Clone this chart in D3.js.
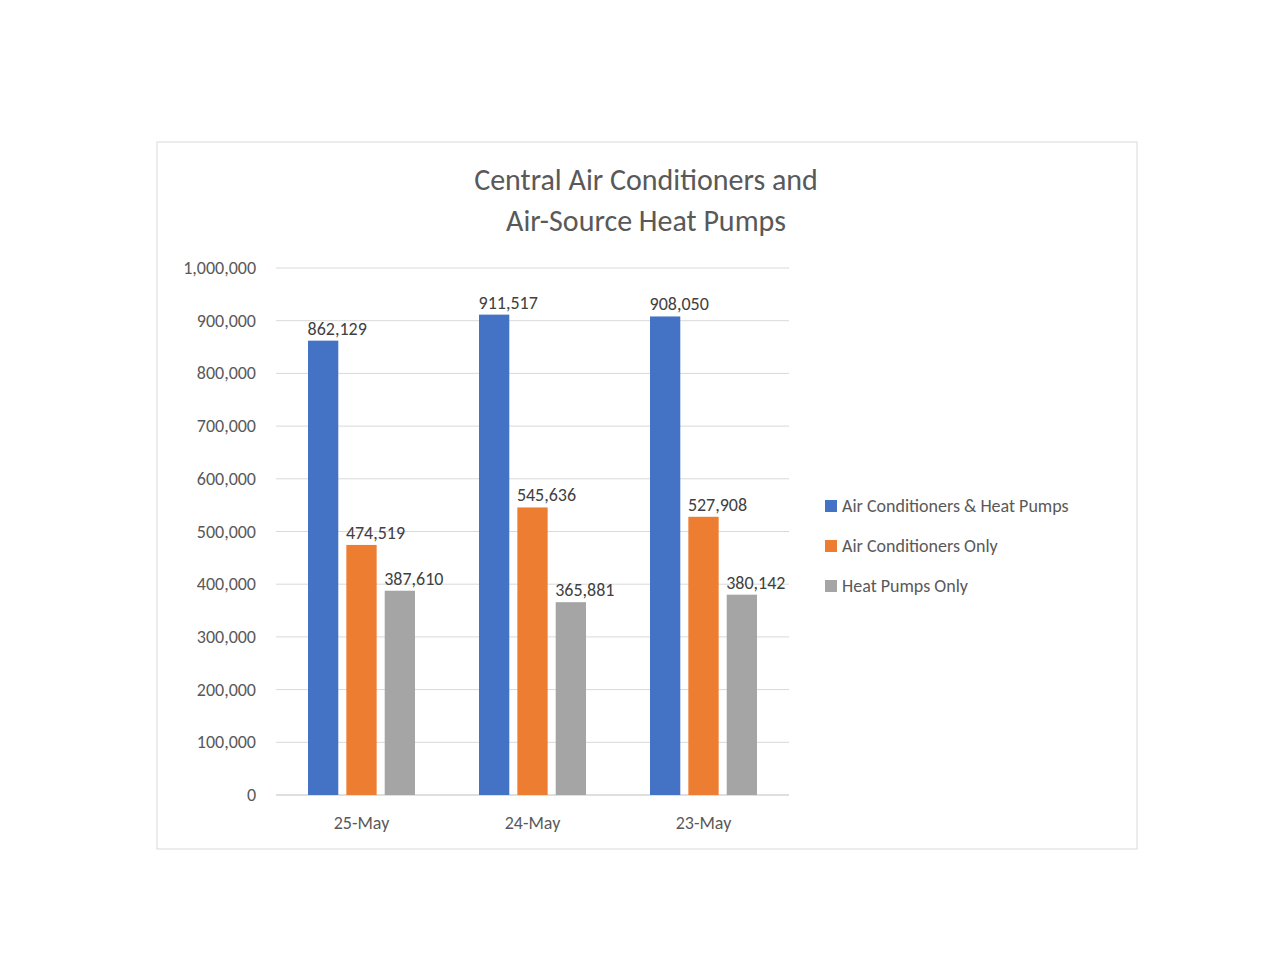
<!DOCTYPE html>
<html><head><meta charset="utf-8">
<script src="https://cdn.jsdelivr.net/npm/d3@7"></script>
<style>body{margin:0;background:#fff;font-family:Carlito,Lato,"Open Sans",sans-serif;}</style>
</head><body><div id="chart"></div>
<script>
const categories = ["25-May", "24-May", "23-May"];
const seriesNames = ["Air Conditioners & Heat Pumps", "Air Conditioners Only", "Heat Pumps Only"];
const bothValues = [862129, 911517, 908050];
const acValues = [474519, 545636, 527908];
const hpValues = [387610, 365881, 380142];
const colors = ["#4472c4", "#ed7d31", "#a5a5a5"];
const ticks = d3.range(0, 1000001, 100000);

const svg = d3.select("#chart").append("svg").attr("width", 1280).attr("height", 960);
svg.append("rect").attr("x", 157).attr("y", 142).attr("width", 980).attr("height", 707)
  .attr("fill", "#fff").attr("stroke", "#d9d9d9");

svg.append("text").attr("x", 646).attr("y", 190).attr("text-anchor", "middle")
  .attr("font-size", 30).attr("fill", "#595959").text("Central Air Conditioners and");
svg.append("text").attr("x", 646).attr("y", 231).attr("text-anchor", "middle")
  .attr("font-size", 30).attr("fill", "#595959").text("Air-Source Heat Pumps");

const y = d3.scaleLinear().domain([0, 1000000]).range([795, 268]);
const x0 = d3.scaleBand().domain(categories).range([276, 789]);
const x1 = d3.scaleBand().domain(seriesNames).range([32, 139]).paddingInner(0.21);

svg.append("g").selectAll("line").data(ticks).enter().append("line")
  .attr("x1", 276).attr("x2", 789).attr("y1", d => y(d)).attr("y2", d => y(d))
  .attr("stroke", d => d === 0 ? "#bfbfbf" : "#d9d9d9");
svg.append("g").selectAll("text").data(ticks).enter().append("text")
  .attr("x", 256).attr("y", d => y(d) + 6).attr("text-anchor", "end")
  .attr("font-size", 18).attr("fill", "#595959").text(d3.format(","));

svg.append("g").selectAll("text").data(categories).enter().append("text")
  .attr("x", d => x0(d) + x0.bandwidth() / 2).attr("y", 829).attr("text-anchor", "middle")
  .attr("font-size", 18).attr("fill", "#595959").text(d => d);

const all = [bothValues, acValues, hpValues];
all.forEach((vals, si) => {
  const g = svg.append("g");
  g.selectAll("rect").data(vals).enter().append("rect")
    .attr("x", (d, i) => x0(categories[i]) + x1(seriesNames[si]))
    .attr("width", x1.bandwidth())
    .attr("y", d => y(d)).attr("height", d => y(0) - y(d)).attr("fill", colors[si]);
  g.selectAll("text").data(vals).enter().append("text")
    .attr("x", (d, i) => x0(categories[i]) + x1(seriesNames[si]) + x1.bandwidth() / 2 + 14)
    .attr("y", d => y(d) - 6).attr("text-anchor", "middle")
    .attr("font-size", 18).attr("fill", "#404040").text(d3.format(","));
});

const leg = svg.append("g").selectAll("g").data(seriesNames).enter().append("g")
  .attr("transform", (d, i) => `translate(825,${506 + i * 40})`);
leg.append("rect").attr("y", -6).attr("width", 12).attr("height", 12).attr("fill", (d, i) => colors[i]);
leg.append("text").attr("x", 17).attr("y", 6).attr("font-size", 18).attr("fill", "#595959").text(d => d);
</script></body></html>
